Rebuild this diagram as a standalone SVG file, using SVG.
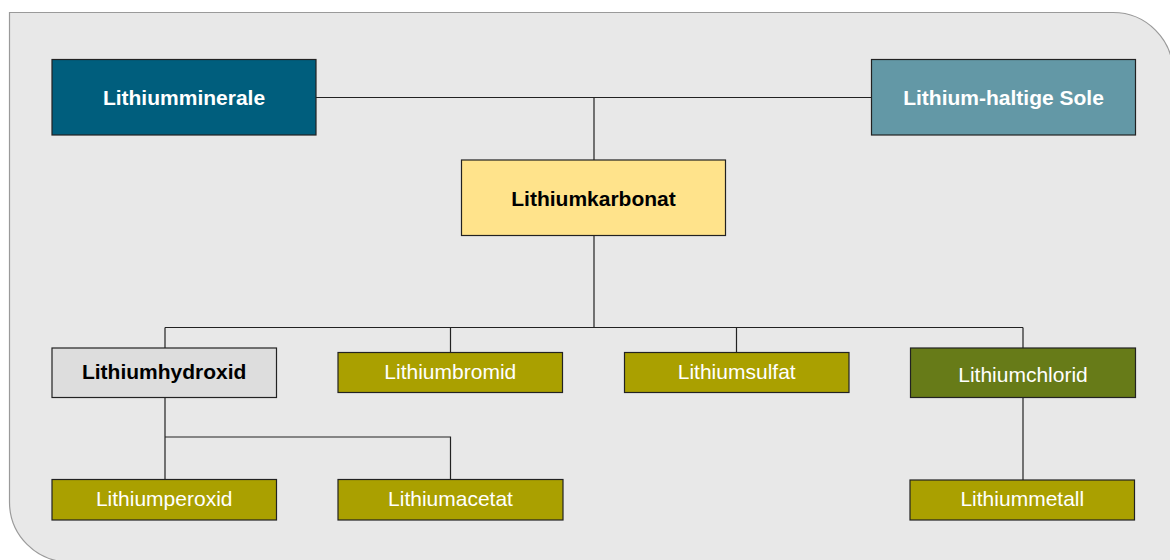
<svg xmlns="http://www.w3.org/2000/svg" width="1170" height="560" viewBox="0 0 1170 560">
<style>
.box{stroke:#222;stroke-width:1.2}
.t{font-family:"Liberation Sans",Arial,sans-serif;font-size:21px;text-anchor:middle}
.b{font-weight:bold}
.w{fill:#fff}
.k{fill:#000}
.olive{fill:#aaa000}
.conn{fill:none;stroke:#222;stroke-width:1.2}
</style>
<path d="M9.5,12.5 H1113 A60,60 0 0 1 1173,72.5 V562 H69.5 A60,60 0 0 1 9.5,502 Z" fill="#e8e8e8" stroke="#9a9a9a" stroke-width="1.2"/>
<g id="connectors">
<path class="conn" d="M316,97.5 H871 M594,97.5 V160"/>
<path class="conn" d="M594,236 V327.5 M165,327.5 H1023 M165,327.5 V348 M450.5,327.5 V352 M736.5,327.5 V352 M1023,327.5 V348"/>
<path class="conn" d="M165,397 V437 H450.5 V479 M165,437 V479"/>
<path class="conn" d="M1023,397 V480"/>
</g>
<g id="lithiumminerale">
<rect class="box" x="52" y="59.5" width="264" height="75.5" fill="#005e7d"/>
<text class="t b w" x="184" y="104.5">Lithiumminerale</text>
</g>
<g id="sole">
<rect class="box" x="871.5" y="59.5" width="264" height="75.5" fill="#6398a6"/>
<text class="t b w" x="1003.5" y="104.5">Lithium-haltige Sole</text>
</g>
<g id="karbonat">
<rect class="box" x="461.5" y="160" width="264" height="75.5" fill="#ffe38b"/>
<text class="t b k" x="593.5" y="205.5">Lithiumkarbonat</text>
</g>
<g id="hydroxid">
<rect class="box" x="52" y="348" width="224.5" height="49.5" fill="#dddddd"/>
<text class="t b k" x="164.2" y="379">Lithiumhydroxid</text>
</g>
<g id="bromid">
<rect class="box olive" x="338" y="352.5" width="224.5" height="40"/>
<text class="t w" x="450.3" y="379">Lithiumbromid</text>
</g>
<g id="sulfat">
<rect class="box olive" x="624.5" y="352.5" width="224.5" height="40"/>
<text class="t w" x="736.7" y="379">Lithiumsulfat</text>
</g>
<g id="chlorid">
<rect class="box" x="910.5" y="348" width="225" height="49.5" fill="#677b18"/>
<text class="t w" x="1023" y="382">Lithiumchlorid</text>
</g>
<g id="peroxid">
<rect class="box olive" x="52" y="479.5" width="224.5" height="40.5"/>
<text class="t w" x="164.2" y="506">Lithiumperoxid</text>
</g>
<g id="acetat">
<rect class="box olive" x="338" y="479.5" width="225" height="40.5"/>
<text class="t w" x="450.5" y="506">Lithiumacetat</text>
</g>
<g id="metall">
<rect class="box olive" x="910" y="480" width="224.5" height="40"/>
<text class="t w" x="1022.3" y="506">Lithiummetall</text>
</g>
</svg>
